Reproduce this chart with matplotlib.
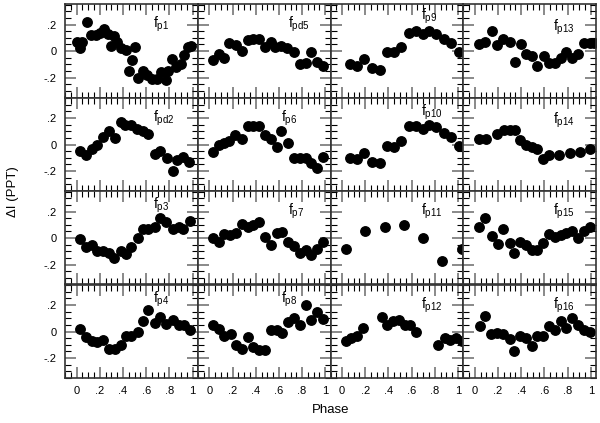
import numpy as np
import matplotlib
matplotlib.use("Agg")
import matplotlib.pyplot as plt
from matplotlib.ticker import MultipleLocator, FixedLocator

plt.rcParams['font.family'] = ['Liberation Sans', 'DejaVu Sans']

# phase / delta I (ppt) for each mode
ph_p1 = [0.00, 0.03, 0.05, 0.09, 0.12, 0.17, 0.20, 0.24, 0.27, 0.30, 0.32, 0.35, 0.38, 0.43, 0.50, 0.48,
         0.45, 0.53, 0.57, 0.61, 0.65, 0.69, 0.73, 0.77, 0.79, 0.82, 0.86, 0.90, 0.93, 0.96, 0.99]
di_p1 = [0.07, 0.02, 0.07, 0.22, 0.12, 0.12, 0.14, 0.17, 0.13, 0.04, 0.11, 0.07, 0.02, 0.01, 0.03, -0.07,
         -0.15, -0.20, -0.15, -0.18, -0.21, -0.21, -0.16, -0.22, -0.15, -0.06, -0.12, -0.10, -0.03, 0.03, 0.04]

ph_pd5 = [0.03, 0.08, 0.13, 0.17, 0.23, 0.28, 0.33, 0.38, 0.43, 0.48, 0.53, 0.57, 0.62, 0.67, 0.73, 0.78, 0.83, 0.88, 0.93, 0.98]
di_pd5 = [-0.07, -0.02, -0.05, 0.06, 0.045, 0.00, 0.08, 0.09, 0.09, 0.03, 0.07, 0.03, 0.04, 0.02, -0.01, -0.10, -0.09, -0.01, -0.08, -0.11]

ph_p9 = [0.07, 0.13, 0.19, 0.26, 0.33, 0.39, 0.45, 0.51, 0.58, 0.64, 0.70, 0.75, 0.81, 0.88, 0.94, 1.01]
di_p9 = [-0.10, -0.11, -0.06, -0.13, -0.14, -0.01, -0.01, 0.03, 0.14, 0.15, 0.13, 0.15, 0.13, 0.09, 0.06, -0.01]

ph_p13 = [0.04, 0.09, 0.15, 0.19, 0.24, 0.30, 0.35, 0.40, 0.44, 0.49, 0.54, 0.60, 0.64, 0.69, 0.74, 0.79, 0.84, 0.89, 0.94, 0.99, 1.03]
di_p13 = [0.05, 0.07, 0.15, 0.045, 0.09, 0.07, -0.08, 0.05, -0.02, -0.04, -0.11, -0.035, -0.09, -0.09, -0.055, -0.005, -0.05, -0.02, 0.06, 0.06, 0.06]

ph_pd2 = [0.03, 0.08, 0.13, 0.18, 0.23, 0.28, 0.33, 0.38, 0.42, 0.47, 0.52, 0.57, 0.62, 0.68, 0.72, 0.78, 0.83, 0.87, 0.92, 0.97]
di_pd2 = [-0.05, -0.08, -0.03, 0.00, 0.06, 0.10, 0.05, 0.17, 0.15, 0.15, 0.12, 0.10, 0.08, -0.07, -0.05, -0.10, -0.20, -0.12, -0.09, -0.13]

ph_p6 = [0.03, 0.08, 0.13, 0.17, 0.22, 0.28, 0.33, 0.38, 0.43, 0.48, 0.53, 0.58, 0.62, 0.68, 0.73, 0.78, 0.83, 0.88, 0.93, 0.98]
di_p6 = [-0.055, 0.00, 0.01, 0.03, 0.07, 0.04, 0.14, 0.14, 0.14, 0.07, 0.04, -0.02, 0.10, 0.01, -0.10, -0.10, -0.10, -0.14, -0.18, -0.09]

ph_p10 = [0.07, 0.13, 0.19, 0.26, 0.33, 0.39, 0.45, 0.51, 0.58, 0.64, 0.70, 0.75, 0.81, 0.88, 0.94, 1.01]
di_p10 = [-0.10, -0.11, -0.06, -0.13, -0.14, -0.01, -0.02, 0.03, 0.14, 0.14, 0.12, 0.145, 0.13, 0.09, 0.06, -0.01]

ph_p14 = [0.04, 0.10, 0.19, 0.25, 0.30, 0.35, 0.39, 0.44, 0.49, 0.54, 0.59, 0.64, 0.73, 0.82, 0.91, 0.99]
di_p14 = [0.045, 0.045, 0.08, 0.11, 0.11, 0.11, 0.035, 0.00, -0.015, -0.03, -0.105, -0.08, -0.08, -0.06, -0.055, -0.03]

ph_p3 = [0.03, 0.08, 0.13, 0.18, 0.23, 0.28, 0.32, 0.38, 0.43, 0.47, 0.53, 0.57, 0.62, 0.68, 0.72, 0.77, 0.83, 0.88, 0.92, 0.98]
di_p3 = [-0.01, -0.07, -0.05, -0.10, -0.10, -0.11, -0.15, -0.10, -0.12, -0.065, 0.00, 0.065, 0.065, 0.085, 0.15, 0.12, 0.065, 0.08, 0.065, 0.13]

ph_p7 = [0.03, 0.085, 0.13, 0.18, 0.23, 0.28, 0.33, 0.38, 0.43, 0.48, 0.53, 0.58, 0.63, 0.68, 0.73, 0.78, 0.83, 0.88, 0.93, 0.98]
di_p7 = [0.00, -0.03, 0.03, 0.02, 0.04, 0.105, 0.08, 0.10, 0.12, 0.01, -0.05, 0.035, 0.045, -0.03, -0.06, -0.11, -0.09, -0.13, -0.08, -0.03]

ph_p11 = [0.035, 0.20, 0.37, 0.53, 0.70, 0.86, 1.03]
di_p11 = [-0.085, 0.05, 0.085, 0.10, 0.00, -0.17, -0.085]

ph_p15 = [0.04, 0.09, 0.15, 0.20, 0.245, 0.30, 0.34, 0.39, 0.44, 0.49, 0.54, 0.59, 0.64, 0.69, 0.74, 0.79, 0.84, 0.89, 0.94, 0.99]
di_p15 = [0.08, 0.15, 0.015, -0.045, 0.07, -0.04, -0.115, -0.03, -0.05, -0.09, -0.09, -0.04, 0.03, 0.01, 0.02, 0.035, 0.05, 0.00, 0.05, 0.085]

ph_p4 = [0.03, 0.08, 0.13, 0.18, 0.23, 0.28, 0.33, 0.38, 0.43, 0.47, 0.53, 0.57, 0.62, 0.68, 0.72, 0.77, 0.83, 0.88, 0.93, 0.98]
di_p4 = [0.02, -0.04, -0.07, -0.08, -0.06, -0.135, -0.13, -0.10, -0.035, -0.035, 0.00, 0.08, 0.16, 0.065, 0.11, 0.06, 0.09, 0.05, 0.05, 0.015]

ph_p8 = [0.03, 0.085, 0.13, 0.19, 0.23, 0.28, 0.33, 0.38, 0.43, 0.48, 0.53, 0.58, 0.63, 0.68, 0.73, 0.78, 0.83, 0.88, 0.93, 0.98]
di_p8 = [0.05, 0.02, -0.035, -0.02, -0.10, -0.135, -0.04, -0.12, -0.14, -0.14, 0.015, 0.015, -0.01, 0.07, 0.10, 0.05, 0.20, 0.085, 0.145, 0.095]

ph_p12 = [0.035, 0.08, 0.13, 0.18, 0.34, 0.39, 0.44, 0.49, 0.54, 0.59, 0.64, 0.83, 0.885, 0.93, 0.98, 1.03]
di_p12 = [-0.07, -0.05, -0.035, 0.03, 0.11, 0.05, 0.08, 0.085, 0.05, 0.05, 0.00, -0.10, -0.05, -0.065, -0.045, -0.07]

ph_p16 = [0.045, 0.09, 0.14, 0.195, 0.245, 0.30, 0.34, 0.39, 0.44, 0.49, 0.54, 0.59, 0.64, 0.69, 0.74, 0.79, 0.84, 0.89, 0.94, 0.99]
di_p16 = [0.04, 0.115, -0.02, -0.01, -0.02, -0.055, -0.15, -0.035, -0.05, -0.11, -0.035, -0.035, 0.045, 0.015, 0.08, 0.03, 0.10, 0.05, 0.01, 0.00]

# grid order: row by row
labels = ['p1', 'pd5', 'p9', 'p13',
          'pd2', 'p6', 'p10', 'p14',
          'p3', 'p7', 'p11', 'p15',
          'p4', 'p8', 'p12', 'p16']
phases = [ph_p1, ph_pd5, ph_p9, ph_p13,
          ph_pd2, ph_p6, ph_p10, ph_p14,
          ph_p3, ph_p7, ph_p11, ph_p15,
          ph_p4, ph_p8, ph_p12, ph_p16]
amps = [di_p1, di_pd5, di_p9, di_p13,
        di_pd2, di_p6, di_p10, di_p14,
        di_p3, di_p7, di_p11, di_p15,
        di_p4, di_p8, di_p12, di_p16]

xticks = [0, 0.2, 0.4, 0.6, 0.8, 1.0]
xticklabels = ['0', '.2', '.4', '.6', '.8', '1']
yticks = [-0.2, 0, 0.2]
yticklabels = ['-.2', '0', '.2']

# label placement (data coords) per panel
lab_x = [0.66, 0.68, 0.68, 0.67, 0.66, 0.62, 0.68, 0.67,
         0.66, 0.68, 0.68, 0.67, 0.66, 0.62, 0.68, 0.67]
lab_y = [0.20, 0.20, 0.26, 0.18, 0.20, 0.20, 0.245, 0.185,
         0.25, 0.20, 0.20, 0.20, 0.24, 0.24, 0.20, 0.20]

fig, axes = plt.subplots(4, 4, figsize=(6.0, 4.23), dpi=100, sharex=True, sharey=True)
fig.subplots_adjust(left=65/600, right=596/600, top=1-4/423, bottom=1-378/423,
                    wspace=0, hspace=0)

for i, ax in enumerate(axes.flat):
    ax.plot(phases[i], amps[i], 'o', color='black', markersize=6.8, clip_on=True)
    ax.text(lab_x[i], lab_y[i], r'$\mathregular{f_{%s}}$' % labels[i],
            fontsize=10, va='center', ha='left')
    ax.set_xlim(-0.1, 1.045)
    ax.set_ylim(-0.35, 0.355)
    ax.xaxis.set_major_locator(FixedLocator(xticks))
    ax.xaxis.set_minor_locator(MultipleLocator(0.05))
    ax.yaxis.set_major_locator(FixedLocator(yticks))
    ax.yaxis.set_minor_locator(MultipleLocator(0.05))
    ax.tick_params(which='both', direction='in', top=True, right=True)
    ax.tick_params(which='major', length=8, width=1.3, color='#808080', labelsize=8, pad=6)
    ax.tick_params(which='minor', length=4, width=0.8, color='black')
    for sp in ax.spines.values():
        sp.set_linewidth(1.2)
        sp.set_color('#333333')

for ax in axes[-1, :]:
    ax.set_xticklabels(xticklabels)
for ax in axes[:, 0]:
    ax.set_yticklabels(yticklabels)

fig.text(0.551, 0.031, 'Phase', ha='center', va='center', fontsize=9.5)
fig.text(0.022, 0.548, 'ΔI (PPT)', ha='center', va='center', rotation=90, fontsize=9.5)

fig.savefig('out.png', dpi=100)
